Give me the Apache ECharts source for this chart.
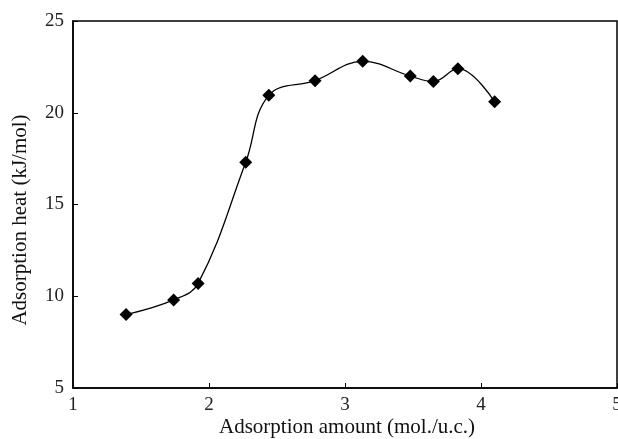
<!DOCTYPE html>
<html><head><meta charset="utf-8">
<script src="https://cdn.jsdelivr.net/npm/echarts@6/dist/echarts.min.js"></script>
<style>html,body{margin:0;padding:0;background:#fff;overflow:hidden}#c{width:618px;height:439px}</style>
</head><body><div id="c"></div>
<script>
const amount = [1.39, 1.74, 1.92, 2.27, 2.44, 2.78, 3.13, 3.48, 3.65, 3.83, 4.10];
const heat   = [9.0, 9.8, 10.7, 17.3, 20.95, 21.75, 22.8, 22.0, 21.7, 22.4, 20.6];
const xTicks = [1, 2, 3, 4, 5];
const yTicks = [5, 10, 15, 20, 25];
const xTitle = 'Adsorption amount (mol./u.c.)';
const yTitle = 'Adsorption heat (kJ/mol)';

const font = '"Liberation Serif", "DejaVu Serif", serif';
const chart = echarts.init(document.getElementById('c'), null, {renderer: 'canvas', width: 618, height: 439});
chart.setOption({
  animation: false,
  backgroundColor: '#fff',
  grid: {left: 73, right: 1, top: 21, bottom: 51, show: true, borderColor: '#000', borderWidth: 1.5, containLabel: false, outerBoundsMode: 'none'},
  xAxis: {
    type: 'value', min: xTicks[0], max: xTicks[xTicks.length-1], interval: 1,
    axisLine: {show: true, lineStyle: {color: '#000', width: 1.5}},
    axisTick: {show: true, inside: true, length: 5, lineStyle: {color: '#000'}},
    axisLabel: {color: '#222', fontFamily: font, fontSize: 19, margin: 8},
    splitLine: {show: false}
  },
  yAxis: {
    type: 'value', min: yTicks[0], max: yTicks[yTicks.length-1], interval: 5,
    axisLine: {show: true, lineStyle: {color: '#000', width: 1.5}},
    axisTick: {show: true, inside: true, length: 5, lineStyle: {color: '#000'}},
    axisLabel: {color: '#222', fontFamily: font, fontSize: 19, margin: 9},
    splitLine: {show: false}
  },
  graphic: [
    {type: 'text', x: 347, y: 417, style: {text: xTitle, font: '21px ' + font, fill: '#111', align: 'center', verticalAlign: 'top'}},
    {type: 'text', x: 10, y: 220, rotation: Math.PI/2, style: {text: yTitle, font: '21px ' + font, fill: '#111', align: 'center', verticalAlign: 'top'}}
  ],
  series: [{
    type: 'line', data: amount.map((a, i) => [a, heat[i]]),
    smooth: 0.4, symbol: 'diamond', symbolSize: 13,
    lineStyle: {color: '#000', width: 1.3},
    itemStyle: {color: '#000'}
  }]
});
</script></body></html>
